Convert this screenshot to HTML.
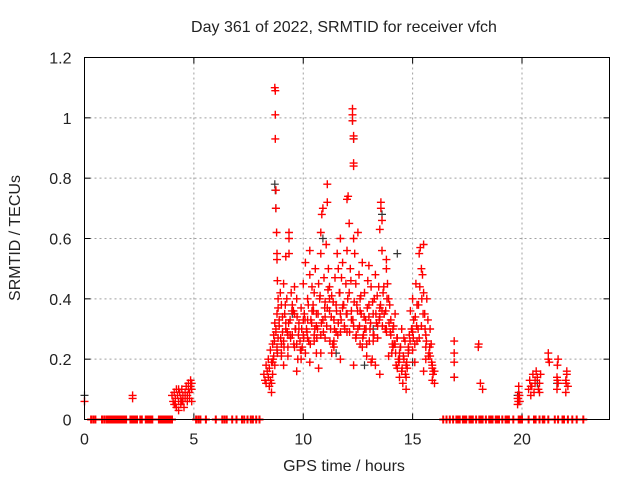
<!DOCTYPE html>
<html><head><meta charset="utf-8"><style>
html,body{margin:0;padding:0;background:#fff;}
svg{display:block;font-family:"Liberation Sans",sans-serif;}
</style></head><body>
<svg id="chart" width="640" height="480">
<text x="344" y="32" text-anchor="middle" font-size="16" fill="#222">Day 361 of 2022, SRMTID for receiver vfch</text>
<text x="344" y="471" text-anchor="middle" font-size="16" fill="#222">GPS time / hours</text>
<text transform="translate(20,238) rotate(-90)" text-anchor="middle" font-size="16" fill="#222">SRMTID / TECUs</text>
<g id="grid"></g>
<g id="axes"></g>
<g id="blackpts"></g>
<g id="redpts"></g>
<rect x="84.5" y="57.5" width="525" height="362" fill="none" stroke="#000" stroke-width="1"/>
</svg>
<script>
const xTicks=[0,5,10,15,20];
const yTicks=[0,0.2,0.4,0.6,0.8,1.0,1.2];
const yTickLabels=["0","0.2","0.4","0.6","0.8","1","1.2"];
const blackX=[0,8.7,8.72,8.75,12.25,12.3,13.6,10.9,14.3,11.5,16.9,15.0,20.7,21.6,19.8,9.5,12.8,13.2];
const blackY=[0.08,0.78,0.76,0.70,0.99,0.93,0.68,0.60,0.55,0.22,0.14,0.19,0.12,0.12,0.08,0.35,0.18,0.3];
const redX=[0,2.2,2.2,
4.0,4.05,4.1,4.1,4.15,4.2,4.2,4.25,4.3,4.3,4.35,4.4,4.4,4.45,4.5,4.5,4.55,4.6,4.6,4.65,4.7,4.7,4.75,4.75,4.8,4.8,4.85,4.85,4.9,4.9,4.9,4.3,4.15,4.45,
8.2,8.25,8.3,8.3,8.35,8.4,8.4,8.45,8.45,8.5,8.5,8.55,8.55,8.6,8.6,8.65,8.65,8.7,8.7,8.75,8.8,8.8,8.85,
8.7,8.72,8.72,8.72,8.75,8.75,8.78,8.8,8.8,8.82,8.85,8.85,
8.9,8.95,9.0,9.0,9.05,9.1,9.1,9.15,9.2,9.2,9.25,9.3,9.35,9.35,9.35,9.4,9.45,9.5,9.5,9.55,9.6,9.65,9.7,9.7,9.75,9.8,9.85,9.9,9.95,10.0,10.0,10.05,10.1,10.1,10.15,10.2,10.25,10.3,10.3,10.35,10.4,10.45,10.5,10.5,10.55,10.6,10.6,10.65,10.7,10.75,10.8,10.8,10.85,10.9,10.9,10.95,11.0,11.0,11.05,11.1,11.1,11.15,11.2,11.2,11.25,11.3,11.35,11.4,11.45,11.5,11.5,11.55,11.6,11.65,11.7,11.7,11.75,11.8,11.85,11.9,11.95,12.0,12.0,12.05,12.1,12.1,12.15,12.2,
12.25,12.25,12.25,12.3,12.3,12.3,12.3,12.3,12.35,12.4,12.45,12.5,12.5,12.55,12.6,12.65,12.7,12.75,12.8,12.85,12.9,12.95,13.0,13.0,13.05,13.1,13.15,13.2,13.25,13.3,13.3,13.35,13.4,13.45,13.5,13.5,13.55,13.55,13.6,13.6,13.65,13.7,13.75,13.8,13.8,13.85,13.9,13.95,14.0,14.0,14.05,14.1,14.15,14.2,14.25,14.3,14.35,14.4,14.45,14.5,14.5,14.55,14.6,14.65,14.7,14.75,14.8,14.85,14.9,14.95,15.0,15.05,15.1,15.15,15.2,15.25,15.3,15.35,15.4,15.45,15.5,15.5,15.55,15.6,15.65,15.7,15.75,15.8,15.85,15.9,15.95,16.0,
9.0,9.2,9.4,9.6,9.8,10.0,10.2,10.4,10.6,10.8,11.0,11.2,11.4,11.6,11.8,12.0,12.2,12.4,12.6,12.8,13.0,13.2,13.4,13.6,13.8,14.0,14.2,14.4,14.6,14.8,15.0,15.2,15.4,15.6,15.8,
9.1,9.3,9.7,9.9,10.3,10.7,11.3,11.7,12.3,12.7,13.1,13.5,13.9,14.3,14.7,15.1,15.5,15.9,
8.55,8.62,8.68,8.75,8.82,8.9,8.97,9.05,9.12,9.18,9.27,9.33,9.42,9.48,9.57,9.63,9.72,9.78,9.87,9.93,10.02,10.08,10.17,10.23,10.32,10.38,10.47,10.53,10.62,10.68,10.77,10.83,10.92,10.98,11.07,11.13,11.22,11.28,11.37,11.43,11.52,11.58,11.67,11.73,11.82,11.88,11.97,12.03,12.12,12.18,12.27,12.33,12.42,12.48,12.57,12.63,12.72,12.78,12.87,12.93,13.02,13.08,13.17,13.23,13.32,13.38,13.47,13.53,13.62,13.68,13.77,13.83,13.92,13.98,14.07,14.13,14.22,14.28,14.37,14.43,14.52,14.58,14.67,14.73,14.82,14.88,14.97,15.03,15.12,15.18,15.27,15.33,15.42,15.48,15.57,15.63,15.72,15.78,15.87,15.93,
8.6,8.8,9.0,9.3,9.6,9.9,10.2,10.5,10.8,11.1,11.4,11.7,12.0,12.3,12.6,12.9,13.2,13.5,13.8,14.1,14.4,14.7,15.0,15.3,15.6,15.9,
16.9,16.9,16.9,16.9,16.0,18.0,18.02,18.1,18.2,19.8,19.82,19.85,19.85,19.9,19.88,19.8,19.83,
20.3,20.35,20.4,20.45,20.5,20.55,20.6,20.65,20.7,20.75,20.8,20.85,20.4,20.6,20.8,
21.2,21.2,21.25,21.6,21.6,21.62,21.65,21.65,22.0,22.0,22.05,22.1,22.05,21.62,22.02];
const redY=[0.06,0.07,0.08,
0.08,0.06,0.09,0.05,0.07,0.04,0.10,0.08,0.06,0.03,0.09,0.07,0.05,0.10,0.08,0.06,0.04,0.09,0.07,0.11,0.06,0.08,0.10,0.12,0.07,0.09,0.13,0.11,0.10,0.12,0.06,0.10,0.05,0.06,
0.15,0.13,0.18,0.12,0.16,0.14,0.20,0.11,0.17,0.23,0.13,0.09,0.19,0.25,0.15,0.28,0.21,0.32,0.18,0.30,0.24,0.35,0.27,
1.10,1.09,1.01,0.93,0.76,0.70,0.62,0.55,0.53,0.46,0.40,0.37,
0.33,0.42,0.22,0.38,0.29,0.45,0.26,0.35,0.54,0.30,0.40,0.24,0.62,0.60,0.55,0.33,0.42,0.28,0.38,0.36,0.44,0.30,0.25,0.40,0.20,0.32,0.26,0.37,0.24,0.28,0.45,0.35,0.22,0.52,0.30,0.40,0.26,0.48,0.56,0.33,0.44,0.38,0.28,0.42,0.50,0.35,0.22,0.30,0.45,0.40,0.55,0.62,0.68,0.70,0.33,0.47,0.39,0.27,0.58,0.72,0.78,0.50,0.44,0.36,0.30,0.41,0.25,0.33,0.47,0.38,0.29,0.55,0.50,0.42,0.35,0.60,0.47,0.52,0.38,0.30,0.45,0.56,0.73,0.74,0.65,0.42,0.50,0.36,
1.03,1.01,0.99,0.94,0.93,0.85,0.84,0.60,0.55,0.45,0.38,0.62,0.30,0.48,0.40,0.35,0.52,0.28,0.42,0.33,0.25,0.46,0.38,0.51,0.30,0.44,0.20,0.35,0.40,0.48,0.18,0.32,0.27,0.44,0.37,0.63,0.70,0.72,0.66,0.56,0.42,0.35,0.30,0.50,0.53,0.45,0.40,0.38,0.28,0.33,0.22,0.30,0.25,0.35,0.18,0.27,0.20,0.14,0.24,0.30,0.16,0.12,0.20,0.26,0.10,0.17,0.22,0.28,0.36,0.30,0.40,0.33,0.25,0.45,0.38,0.30,0.55,0.57,0.50,0.48,0.42,0.58,0.35,0.28,0.40,0.33,0.22,0.30,0.25,0.18,0.16,0.12,
0.25,0.32,0.28,0.35,0.30,0.33,0.27,0.36,0.31,0.28,0.34,0.40,0.26,0.32,0.37,0.29,0.33,0.27,0.36,0.30,0.34,0.26,0.31,0.36,0.29,0.33,0.25,0.22,0.27,0.24,0.29,0.26,0.31,0.24,0.21,
0.18,0.21,0.16,0.23,0.19,0.17,0.22,0.20,0.18,0.24,0.19,0.15,0.21,0.17,0.14,0.19,0.16,0.13,
0.12,0.2,0.26,0.29,0.22,0.31,0.27,0.34,0.24,0.38,0.29,0.32,0.27,0.36,0.25,0.3,0.34,0.28,0.23,0.3,0.27,0.33,0.29,0.38,0.25,0.32,0.36,0.3,0.27,0.35,0.41,0.32,0.29,0.37,0.31,0.43,0.26,0.34,0.39,0.3,0.36,0.28,0.42,0.33,0.38,0.31,0.35,0.4,0.29,0.46,0.33,0.39,0.28,0.36,0.31,0.41,0.27,0.34,0.3,0.37,0.26,0.32,0.39,0.28,0.35,0.41,0.33,0.38,0.31,0.44,0.36,0.4,0.32,0.29,0.25,0.31,0.22,0.27,0.19,0.24,0.17,0.21,0.15,0.19,0.23,0.26,0.3,0.27,0.34,0.31,0.38,0.44,0.4,0.35,0.3,0.26,0.21,0.24,0.19,0.15,
0.19,0.23,0.21,0.28,0.24,0.2,0.33,0.26,0.22,0.37,0.24,0.29,0.35,0.31,0.25,0.21,0.28,0.34,0.3,0.24,0.2,0.18,0.23,0.27,0.2,0.17,
0.26,0.22,0.19,0.14,0.16,0.24,0.25,0.12,0.10,0.05,0.07,0.09,0.11,0.06,0.08,0.07,0.06,
0.10,0.13,0.08,0.11,0.15,0.09,0.12,0.16,0.14,0.10,0.12,0.15,0.11,0.13,0.09,
0.20,0.22,0.19,0.10,0.14,0.18,0.20,0.12,0.09,0.13,0.16,0.11,0.15,0.13,0.12];
const zeroX=[0.3,0.4,0.5,0.8,0.9,1.0,1.08,1.15,1.22,1.3,1.38,1.45,1.52,1.6,1.68,1.75,1.82,1.9,2.1,2.18,2.25,2.32,2.4,2.55,2.62,2.8,2.88,2.95,3.02,3.1,3.4,3.48,3.55,3.62,3.7,3.78,3.85,3.92,4.0,5.1,5.2,5.3,5.55,6.0,6.3,6.4,6.5,6.75,6.95,7.2,7.3,7.45,7.6,7.7,7.85,8.0,
16.4,16.55,16.7,16.85,17.0,17.08,17.15,17.3,17.38,17.45,17.6,17.68,17.75,17.9,18.05,18.12,18.2,18.35,18.5,18.58,18.65,18.8,18.88,18.95,19.1,19.25,19.32,19.4,19.6,19.85,19.92,20.0,20.3,20.55,20.62,20.8,20.95,21.02,21.2,21.5,21.65,21.85,21.92,22.1,22.3,22.5,22.8];
const X0=84.5,X1=609.5,Y0=419.5,Y1=57.5;
function sx(h){return X0+(h/24)*(X1-X0);}
function sy(v){return Y0-(v/1.2)*(Y0-Y1);}
const NS='http://www.w3.org/2000/svg';
const grid=document.getElementById('grid'),axes=document.getElementById('axes');
function mk(t,a,p){const e=document.createElementNS(NS,t);for(const k in a)e.setAttribute(k,a[k]);p.appendChild(e);return e;}
yTicks.forEach((v,i)=>{const y=sy(v);
 if(i>0&&i<yTicks.length-1){const g=mk('line',{x1:X0,x2:X1,y1:y,y2:y,stroke:'#a0a0a0','stroke-dasharray':'2,3'},grid);
 
 }
 mk('line',{x1:X0,x2:X0+6,y1:y,y2:y,stroke:'#000'},axes);mk('line',{x1:X1,x2:X1-6,y1:y,y2:y,stroke:'#000'},axes);
 const t=mk('text',{x:X0-13,y:y+6,'text-anchor':'end','font-size':16,fill:'#222'},axes);t.textContent=yTickLabels[i];
 
 });
xTicks.forEach(v=>{const x=sx(v);
 if(v>0){const g=mk('line',{x1:x,x2:x,y1:Y1,y2:Y0,stroke:'#a0a0a0','stroke-dasharray':'2,3'},grid);
 
 }
 mk('line',{x1:x,x2:x,y1:Y0,y2:Y0-6,stroke:'#000'},axes);mk('line',{x1:x,x2:x,y1:Y1,y2:Y1+6,stroke:'#000'},axes);
 const t=mk('text',{x:x,y:Y0+25,'text-anchor':'middle','font-size':16,fill:'#222'},axes);t.textContent=String(v);
 
 });
function plus(xs,ys,col,g,name,sw){let d='';for(let i=0;i<xs.length;i++){const x=sx(xs[i]),y=sy(ys[i]);d+=`M${(x-4).toFixed(1)} ${y.toFixed(1)}h8M${x.toFixed(1)} ${(y-4).toFixed(1)}v8`;}
 const p=mk('path',{d:d,stroke:col,'stroke-width':sw,fill:'none'},g);
 
 }
plus(blackX,blackY,'#333',document.getElementById('blackpts'),'black-markers',1.2);
plus(redX,redY,'#f00',document.getElementById('redpts'),'red-markers',1.4);
plus(zeroX,zeroX.map(()=>0),'#f00',document.getElementById('redpts'),'zero-markers',2);
</script>
</body></html>
